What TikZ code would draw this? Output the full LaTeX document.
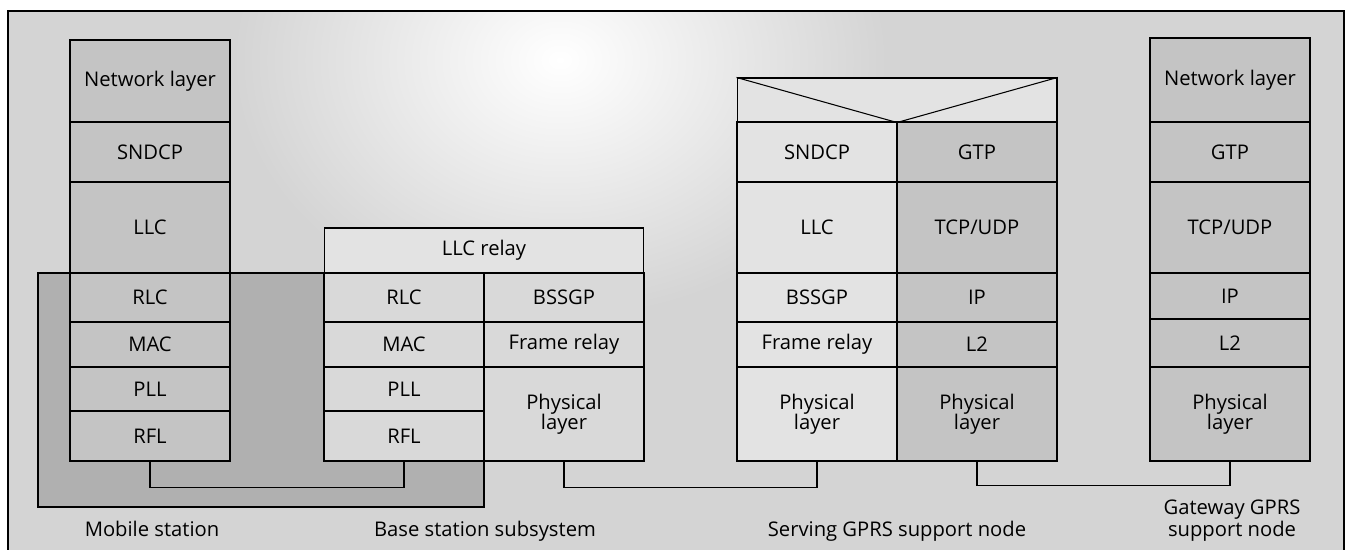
\documentclass[tikz,border=0pt]{standalone}
\usepackage{fontspec}
\setmainfont{Open Sans}

\definecolor{backgr}{gray}{0.83}
\definecolor{stackgr}{gray}{0.77}
\definecolor{radiogr}{gray}{0.69}
\definecolor{relaygr}{gray}{0.85}
\definecolor{servgr}{gray}{0.89}

\begin{document}
\begin{tikzpicture}[x=0.02cm,y=-0.02cm,line width=0.6pt,
    font=\fontsize{11.5}{11.5}\selectfont]

      \useasboundingbox (0,0) rectangle (1347,550);
      \draw[fill=backgr] (8,11) rectangle (1344,570);
      \begin{scope}
        \clip (8,11) rectangle (1344,570);
        \shade[inner color=white,outer color=backgr] (560,60) ellipse (330 and 260);
      \end{scope}
      \draw (8,11) rectangle (1344,570);
      \draw[fill=radiogr] (38,273) rectangle (484,507);

      \begin{scope}[every node/.style={draw,rectangle,inner sep=0pt,minimum width=3.2cm,align=center}]

        \begin{scope}[every node/.append style={fill=stackgr}]
          \node[minimum height=1.64cm] (ms-net)   at (150,81)    {Network layer};
          \node[minimum height=1.2cm]  (ms-sndcp) at (150,152)   {SNDCP};
          \node[minimum height=1.82cm] (ms-llc)   at (150,227.5) {LLC};
          \node[minimum height=0.98cm] (ms-rlc)   at (150,297.5) {RLC};
          \node[minimum height=0.9cm]  (ms-mac)   at (150,344.5) {MAC};
          \node[minimum height=0.88cm] (ms-pll)   at (150,389)   {PLL};
          \node[minimum height=1.0cm]  (ms-rfl)   at (150,436)   {RFL};
        \end{scope}

        \begin{scope}[every node/.append style={fill=relaygr}]
          \node[minimum height=0.9cm,minimum width=6.4cm,fill=servgr] (bss-relay) at (484,250.5) {LLC relay};
          \node[minimum height=0.98cm] (bss-rlc)   at (404,297.5) {RLC};
          \node[minimum height=0.9cm]  (bss-mac)   at (404,344.5) {MAC};
          \node[minimum height=0.88cm] (bss-pll)   at (404,389)   {PLL};
          \node[minimum height=1.0cm]  (bss-rfl)   at (404,436)   {RFL};
          \node[minimum height=0.98cm] (bss-bssgp) at (564,297.5) {BSSGP};
          \node[minimum height=0.9cm]  (bss-fr)    at (564,344.5) {Frame relay};
          \node[minimum height=1.88cm] (bss-phy)   at (564,414)   {Physical\\layer};
        \end{scope}

        \begin{scope}[every node/.append style={fill=servgr}]
          \node[minimum height=0.88cm,minimum width=6.4cm] (sgsn-top) at (897,100) {};
          \node[minimum height=1.2cm]  (sgsn-sndcp) at (817,152)   {SNDCP};
          \node[minimum height=1.82cm] (sgsn-llc)   at (817,227.5) {LLC};
          \node[minimum height=0.98cm] (sgsn-bssgp) at (817,297.5) {BSSGP};
          \node[minimum height=0.9cm]  (sgsn-fr)    at (817,344.5) {Frame relay};
          \node[minimum height=1.88cm] (sgsn-phy1)  at (817,414)   {Physical\\layer};
        \end{scope}

        \begin{scope}[every node/.append style={fill=stackgr}]
          \node[minimum height=1.2cm]  (sgsn-gtp)  at (977,152)   {GTP};
          \node[minimum height=1.82cm] (sgsn-tcp)  at (977,227.5) {TCP/UDP};
          \node[minimum height=0.98cm] (sgsn-ip)   at (977,297.5) {IP};
          \node[minimum height=0.9cm]  (sgsn-l2)   at (977,344.5) {L2};
          \node[minimum height=1.88cm] (sgsn-phy2) at (977,414)   {Physical\\layer};

          \node[minimum height=1.68cm] (ggsn-net) at (1230,80)    {Network layer};
          \node[minimum height=1.2cm]  (ggsn-gtp) at (1230,152)   {GTP};
          \node[minimum height=1.82cm] (ggsn-tcp) at (1230,227.5) {TCP/UDP};
          \node[minimum height=0.92cm] (ggsn-ip)  at (1230,296)   {IP};
          \node[minimum height=0.96cm] (ggsn-l2)  at (1230,343)   {L2};
          \node[minimum height=1.88cm] (ggsn-phy) at (1230,414)   {Physical\\layer};
        \end{scope}

      \end{scope}

      \draw (sgsn-top.north west) -- (sgsn-top.south) -- (sgsn-top.north east);

      \draw (ms-rfl.south) -- ++(0,26) -| (bss-rfl.south);
      \draw (bss-phy.south) -- ++(0,26) -| (sgsn-phy1.south);
      \draw (sgsn-phy2.south) -- ++(0,24) -| (ggsn-phy.south);

      \begin{scope}[every node/.style={anchor=base}]
        \node (ms-label)   at (152,537) {Mobile station};
        \node (bss-label)  at (485,537) {Base station subsystem};
        \node (sgsn-label) at (897,537) {Serving GPRS support node};
        \node[anchor=center,align=center,font=\fontsize{11.5}{10.2}\selectfont]
          (ggsn-label) at (1232,521) {Gateway GPRS\\support node};
      \end{scope}

    \end{tikzpicture}
\end{document}
